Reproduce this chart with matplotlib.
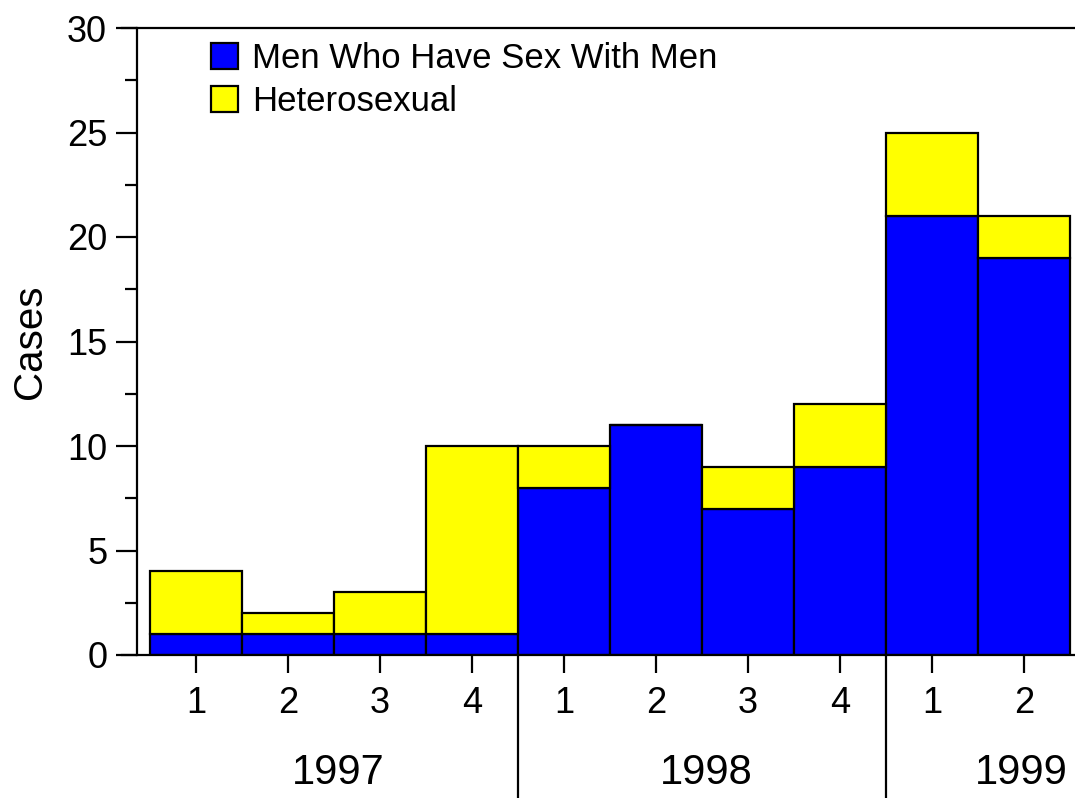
import matplotlib.pyplot as plt
import matplotlib.transforms as mtransforms
import numpy as np

plt.rcParams['font.family'] = ['Liberation Sans', 'DejaVu Sans']

# data
quarters = ['1', '2', '3', '4', '1', '2', '3', '4', '1', '2']
msm = [1, 1, 1, 1, 8, 11, 7, 9, 21, 19]
hetero = [3, 1, 2, 9, 2, 0, 2, 3, 4, 2]
years = ['1997', '1998', '1999']
year_pos = [1.55, 5.55, 8.97]
year_breaks = [3.5, 7.5]

x = np.arange(len(quarters))

fig = plt.figure(figsize=(10.75, 7.98), dpi=100)
ax = fig.add_axes([137/1075, 1 - 655/798, 938/1075, 627/798])

ax.bar(x, msm, width=1.0, color='#0000ff', edgecolor='black', linewidth=1.6,
       label='Men Who Have Sex With Men')
ax.bar(x, hetero, width=1.0, bottom=msm, color='#ffff00', edgecolor='black',
       linewidth=1.6, label='Heterosexual')

ax.set_xlim(-0.641, 9.554)
ax.set_ylim(0, 30)

ax.spines['right'].set_visible(False)
for s in ['left', 'top', 'bottom']:
    ax.spines[s].set_linewidth(1.6)
ax.spines['top'].set_bounds(-0.8, 9.554)
ax.spines['bottom'].set_bounds(-0.8, 9.554)

ax.set_yticks(np.arange(0, 31, 5))
ax.set_yticks(np.arange(2.5, 30, 5), minor=True)
ax.tick_params(axis='y', which='major', length=15, width=1.6, labelsize=26, pad=6.5)
ax.tick_params(axis='y', which='minor', length=9, width=1.6)
ax.set_xticks(x)
ax.set_xticklabels(quarters)
ax.tick_params(axis='x', length=13, width=1.6, labelsize=26, pad=9)

ax.set_ylabel('Cases', fontsize=29, labelpad=13)

# year separators and labels below the axis
trans = mtransforms.blended_transform_factory(ax.transData, ax.transAxes)
for b in year_breaks:
    ax.plot([b, b], [0, -0.23], color='black', lw=1.6, transform=trans, clip_on=False)
for yr, p in zip(years, year_pos):
    ax.text(p, -0.188, yr, transform=trans, ha='center', va='center', fontsize=30)

ax.legend(loc='upper left', bbox_to_anchor=(211/1075, 1 - 42/798),
          bbox_transform=fig.transFigure, frameon=False, fontsize=25,
          handlelength=0.78, handleheight=0.78, handletextpad=0.4,
          labelspacing=0.3, borderpad=0, borderaxespad=0)

fig.savefig('out.png', dpi=100)
